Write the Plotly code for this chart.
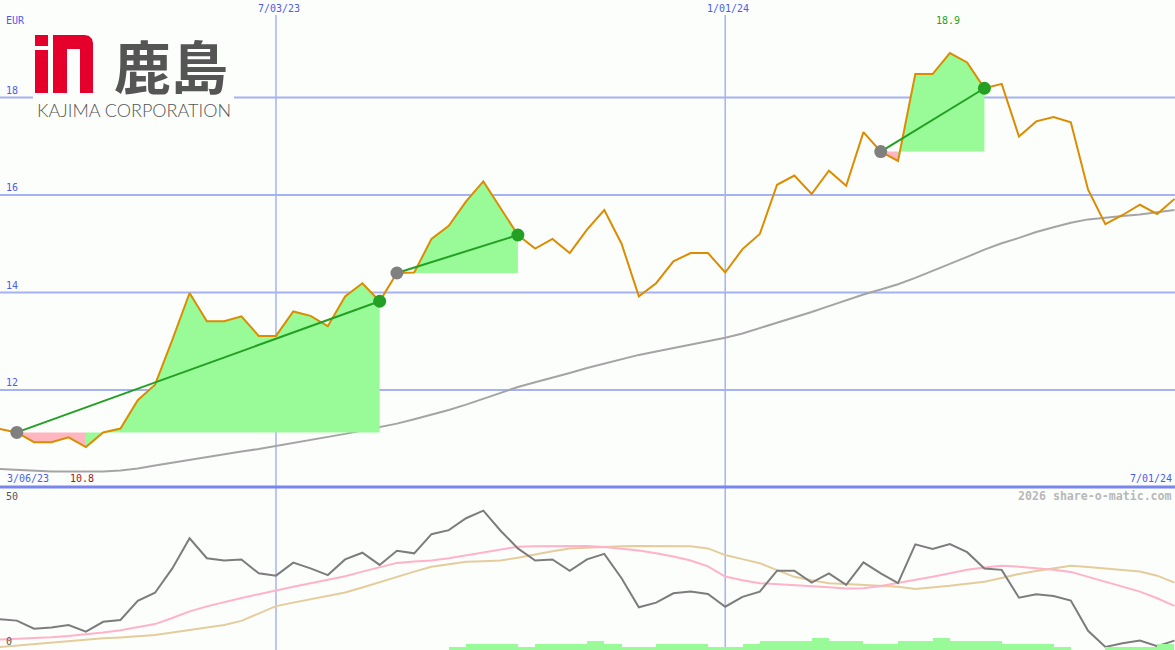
import plotly.graph_objects as go
import pandas as pd

W, H = 1175, 650
BG = "#fcfefc"

# ---------------- data ----------------
week_dates = pd.date_range("2023-03-13", periods=69, freq="7D")

price = [11.20, 11.13, 10.93, 10.93, 11.03, 10.83, 11.13, 11.21, 11.79, 12.11,
         13.03, 13.99, 13.41, 13.41, 13.51, 13.11, 13.11, 13.61, 13.52, 13.31,
         13.92, 14.19, 13.82, 14.40, 14.41, 15.10, 15.37, 15.87, 16.28, 15.73,
         15.18, 14.90, 15.10, 14.81, 15.29, 15.69, 15.00, 13.92, 14.19, 14.64,
         14.81, 14.81, 14.41, 14.89, 15.20, 16.21, 16.40, 16.02, 16.50, 16.19,
         17.29, 16.89, 16.70, 18.48, 18.48, 18.91, 18.72, 18.19, 18.28, 17.20,
         17.51, 17.60, 17.49, 16.11, 15.40, 15.59, 15.80, 15.61, 15.92]

moving_avg = [10.38, 10.36, 10.34, 10.33, 10.33, 10.33, 10.33, 10.35, 10.39, 10.45,
              10.51, 10.56, 10.62, 10.68, 10.74, 10.79, 10.85, 10.91, 10.97, 11.03,
              11.10, 11.17, 11.24, 11.31, 11.40, 11.49, 11.59, 11.70, 11.82, 11.94,
              12.06, 12.16, 12.25, 12.35, 12.45, 12.54, 12.64, 12.72, 12.79, 12.86,
              12.93, 13.00, 13.07, 13.16, 13.27, 13.38, 13.48, 13.60, 13.72, 13.84,
              13.96, 14.06, 14.17, 14.30, 14.44, 14.58, 14.73, 14.88, 15.01, 15.12,
              15.24, 15.34, 15.43, 15.50, 15.54, 15.57, 15.60, 15.64, 15.69]

osc = [9.6, 9.1, 6.3, 6.7, 7.6, 5.3, 8.7, 9.3, 15.9, 18.7,
       27.1, 37.5, 30.6, 29.8, 30.2, 25.4, 24.6, 29.1, 27.1, 24.8,
       30.2, 32.5, 28.3, 33.2, 32.3, 38.9, 40.3, 44.4, 47.0, 40.1,
       34.0, 29.8, 30.2, 26.3, 30.2, 32.1, 23.7, 13.7, 15.3, 18.5,
       19.1, 18.3, 13.9, 17.3, 19.1, 26.3, 26.3, 22.2, 25.4, 21.4,
       29.2, 25.4, 22.0, 35.4, 33.8, 35.5, 32.7, 27.1, 26.6, 17.0,
       18.2, 17.6, 16.0, 5.6, 0.0, 1.3, 2.2, 0.3, 2.2]

osc_fast = [2.6, 2.8, 3.1, 3.4, 3.8, 4.3, 5.0, 5.8, 6.8, 7.9,
            10.0, 12.3, 14.0, 15.5, 16.9, 18.2, 19.6, 20.8, 22.0, 23.2,
            24.4, 26.0, 27.6, 29.0, 29.5, 29.8, 30.6, 31.6, 32.8, 33.8,
            34.6, 34.7, 34.8, 34.8, 34.8, 34.5, 34.0, 33.3, 32.3, 31.2,
            29.8, 27.8, 24.3, 23.0, 22.0, 21.7, 21.4, 21.0, 20.6, 20.2,
            20.3, 21.0, 22.0, 23.1, 24.2, 25.4, 26.6, 27.4, 28.0, 27.7,
            27.2, 26.6, 25.9, 24.2, 22.5, 20.8, 19.1, 16.8, 14.2]

osc_slow = [0.0, 0.5, 1.0, 1.5, 2.0, 2.6, 3.0, 3.3, 3.7, 4.1,
            5.0, 5.9, 6.8, 7.6, 9.0, 11.5, 14.1, 15.3, 16.4, 17.6,
            18.8, 20.5, 22.4, 24.2, 26.0, 27.7, 28.6, 29.4, 29.6, 29.8,
            30.8, 32.0, 33.0, 34.0, 34.3, 34.6, 34.7, 34.8, 34.8, 34.8,
            34.7, 34.0, 31.7, 30.3, 28.9, 26.5, 24.2, 23.0, 22.0, 21.7,
            21.4, 21.1, 20.8, 20.0, 20.5, 21.1, 21.8, 22.5, 23.8, 25.2,
            26.2, 27.1, 28.0, 27.6, 27.1, 26.6, 26.0, 24.6, 22.2]

volume = [0, 0, 0, 0, 0, 0, 0, 0, 0, 0,
          0, 0, 0, 0, 0, 0, 0, 0, 0, 0,
          0, 0, 0, 0, 0, 0, 1, 2, 2, 2,
          1, 2, 2, 2, 3, 2, 1, 1, 2, 2,
          2, 1, 1, 2, 3, 3, 3, 4, 3, 3,
          2, 2, 3, 3, 4, 3, 3, 3, 2, 2,
          2, 1, 0, 0, 1, 1, 1, 2, 0]

trend_segments = [("2023-03-20", "2023-08-14"),
                  ("2023-08-21", "2023-10-09"),
                  ("2024-03-04", "2024-04-15")]

price_ticks = [12, 14, 16, 18]
date_ticks = ["2023-07-03", "2024-01-01"]
corner_labels = ["3/06/23", "7/01/24"]
osc_ticks = [50, 0]
currency = "EUR"
watermark = "2026 share-o-matic.com"

# ---------------- colours ----------------
ORANGE = "#dc8c00"
MA_GRAY = "#a4a4a4"
GRID = "#a6b2f2"
SEP = "#7886ee"
LBL_BLUE = "#4c5cec"
GREEN = "#23a023"
FILL_G = "#98fb98"
FILL_P = "#ffb6c1"
MONO = "DejaVu Sans Mono"

dates = list(week_dates)
idx = {d.strftime("%Y-%m-%d"): i for i, d in enumerate(dates)}


def px_x(p):
    return p / W


def px_y(p):
    return 1 - p / H


def fmt(d):
    d = pd.Timestamp(d)
    return f"{d.month}/{d.day:02d}/{d.year % 100:02d}"


fig = go.Figure()

# moving average
fig.add_trace(go.Scatter(x=dates, y=moving_avg, mode="lines",
                         line=dict(color=MA_GRAY, width=2), hoverinfo="skip"))

# fills for trend segments
gx, gy, rx, ry = [], [], [], []
for s, e in trend_segments:
    si, ei = idx[s], idx[e]
    base = price[si]
    for i in range(si, ei):
        px_ = [dates[i], dates[i], dates[i + 1], dates[i + 1], dates[i], None]
        py_ = [base, price[i], price[i + 1], base, base, None]
        if price[i + 1] >= base:
            gx += px_; gy += py_
        else:
            rx += px_; ry += py_
fig.add_trace(go.Scatter(x=gx, y=gy, mode="lines", fill="toself", fillcolor=FILL_G,
                         line=dict(width=0, color=FILL_G), hoverinfo="skip"))
fig.add_trace(go.Scatter(x=rx, y=ry, mode="lines", fill="toself", fillcolor=FILL_P,
                         line=dict(width=0, color=FILL_P), hoverinfo="skip"))

# price
fig.add_trace(go.Scatter(x=dates, y=price, mode="lines",
                         line=dict(color=ORANGE, width=2), hoverinfo="skip"))

# trend lines and markers
for s, e in trend_segments:
    si, ei = idx[s], idx[e]
    fig.add_trace(go.Scatter(x=[dates[si], dates[ei]], y=[price[si], price[ei]],
                             mode="lines", line=dict(color=GREEN, width=2),
                             hoverinfo="skip"))
for s, e in trend_segments:
    si, ei = idx[s], idx[e]
    fig.add_trace(go.Scatter(x=[dates[si]], y=[price[si]], mode="markers",
                             marker=dict(color="#808080", size=13, line=dict(width=0)),
                             hoverinfo="skip"))
    fig.add_trace(go.Scatter(x=[dates[ei]], y=[price[ei]], mode="markers",
                             marker=dict(color=GREEN, size=13, line=dict(width=0)),
                             hoverinfo="skip"))

# lower panel
fig.add_trace(go.Bar(x=dates, y=volume, yaxis="y3", offset=0,
                     width=7 * 24 * 3600 * 1000, marker=dict(color=FILL_G, line=dict(width=0)),
                     hoverinfo="skip"))
fig.add_trace(go.Scatter(x=dates, y=osc_slow, yaxis="y2", mode="lines",
                         line=dict(color="#e4cc9c", width=2), hoverinfo="skip"))
fig.add_trace(go.Scatter(x=dates, y=osc_fast, yaxis="y2", mode="lines",
                         line=dict(color="#ffb2c8", width=2), hoverinfo="skip"))
fig.add_trace(go.Scatter(x=dates, y=osc, yaxis="y2", mode="lines",
                         line=dict(color="#7c7c7c", width=2), hoverinfo="skip"))

# ---------------- axes ----------------
x_left = dates[1] - pd.Timedelta(days=0.972 * 7)
x_right = dates[1] + pd.Timedelta(days=67.03 * 7)
split = 1 - 487.5 / H

fig.update_layout(
    width=W, height=H, margin=dict(l=0, r=0, t=0, b=0),
    paper_bgcolor=BG, plot_bgcolor=BG, showlegend=False, hovermode=False,
    xaxis=dict(range=[x_left, x_right], showgrid=False, zeroline=False,
               showticklabels=False, ticks="", fixedrange=True),
    yaxis=dict(domain=[split, 1], range=[10, 20], showgrid=False, zeroline=False,
               showticklabels=False, ticks=""),
    yaxis2=dict(domain=[0, split], range=[-3 / 2.9, 50 + (502 - 487.5) / 2.9],
                showgrid=False, zeroline=False, showticklabels=False, ticks="",
                anchor="x"),
    yaxis3=dict(domain=[0, split], range=[0, 162.5 / 3], overlaying="y2",
                showgrid=False, zeroline=False, showticklabels=False, ticks="",
                anchor="x"),
    bargap=0,
)

shapes = []
for v in price_ticks:
    shapes.append(dict(type="line", xref="paper", yref="y", x0=0, x1=1, y0=v, y1=v,
                       line=dict(color=GRID, width=2), layer="below"))
for d in date_ticks:
    shapes.append(dict(type="line", xref="x", yref="paper", x0=d, x1=d,
                       y0=0, y1=px_y(15), line=dict(color=GRID, width=1.5), layer="below"))
shapes.append(dict(type="line", xref="paper", yref="paper", x0=0, x1=1,
                   y0=px_y(487), y1=px_y(487), line=dict(color=SEP, width=3), layer="above"))

# logo
RED = "#e4002b"


def pxpath(pts, close=True):
    s = "M " + " L ".join(f"{px_x(a):.5f},{px_y(b):.5f}" for a, b in pts)
    return s + (" Z" if close else "")


shapes.append(dict(type="rect", xref="paper", yref="paper",
                   x0=px_x(33), x1=px_x(234), y0=px_y(120), y1=px_y(33),
                   fillcolor=BG, line=dict(width=0), layer="above"))
shapes.append(dict(type="path", xref="paper", yref="paper",
                   path=pxpath([(35, 35), (48, 35), (48, 46), (35, 46)]),
                   fillcolor=RED, line=dict(width=0), layer="above"))
shapes.append(dict(type="path", xref="paper", yref="paper",
                   path=pxpath([(35, 50), (48, 50), (48, 93), (35, 93)]),
                   fillcolor=RED, line=dict(width=0), layer="above"))
n_pts = [(53, 93), (53, 35), (85, 35), (89, 36), (92, 39), (93, 43), (93, 93),
         (80, 93), (80, 49), (67, 49), (67, 93)]
shapes.append(dict(type="path", xref="paper", yref="paper", path=pxpath(n_pts),
                   fillcolor=RED, line=dict(width=0), layer="above"))
fig.update_layout(shapes=shapes)

ann = []


def label(text, x, y, color, size=10, xanchor="left", yanchor="middle",
          xref="paper", yref="paper", xshift=0, yshift=0, family=MONO, weight=None,
          height=None):
    f = dict(family=family, size=size, color=color)
    if weight:
        f["weight"] = weight
    a = dict(text=text, x=x, y=y, xref=xref, yref=yref, xanchor=xanchor,
             yanchor=yanchor, showarrow=False, font=f, xshift=xshift,
             yshift=yshift, borderpad=0)
    if height:
        a["height"] = height
        a["valign"] = "middle"
    ann.append(a)


label(currency, px_x(5), px_y(21), LBL_BLUE)
for v in price_ticks:
    label(str(v), px_x(5), v, LBL_BLUE, yref="y", yanchor="bottom", yshift=1)
for d in date_ticks:
    label(fmt(d), d, px_y(9), LBL_BLUE, xanchor="center", xref="x", xshift=3)
label(corner_labels[0], px_x(6), px_y(478), LBL_BLUE)
label(corner_labels[1], px_x(1173), px_y(478), LBL_BLUE, xanchor="right")
imin = price.index(min(price))
imax = price.index(max(price))
label(f"{min(price):.1f}", dates[imin], px_y(478), "#a01818", xanchor="center",
      xref="x", xshift=-4)
label(f"{max(price):.1f}", dates[imax], px_y(21), GREEN, xanchor="center",
      xref="x", xshift=-2)
label(watermark, px_x(1173), px_y(496), "#b8b8b8", size=11.6, xanchor="right",
      weight="bold")
label(str(osc_ticks[0]), px_x(5), px_y(496), "#555555")
label(str(osc_ticks[1]), px_x(5), px_y(641), "#555555")

# logo texts
label("鹿島", px_x(171), px_y(64), "#555555", size=57, xanchor="center",
      family="Noto Sans CJK JP", weight="bold", height=62)
label("KAJIMA CORPORATION", px_x(133.5), px_y(110), "#555555", size=18,
      xanchor="center", family="Lato", weight=300, height=18)

fig.update_layout(annotations=ann)

fig.write_html("out.html", config={"displayModeBar": False, "staticPlot": True},
               post_script="document.body.style.margin='0px';")
